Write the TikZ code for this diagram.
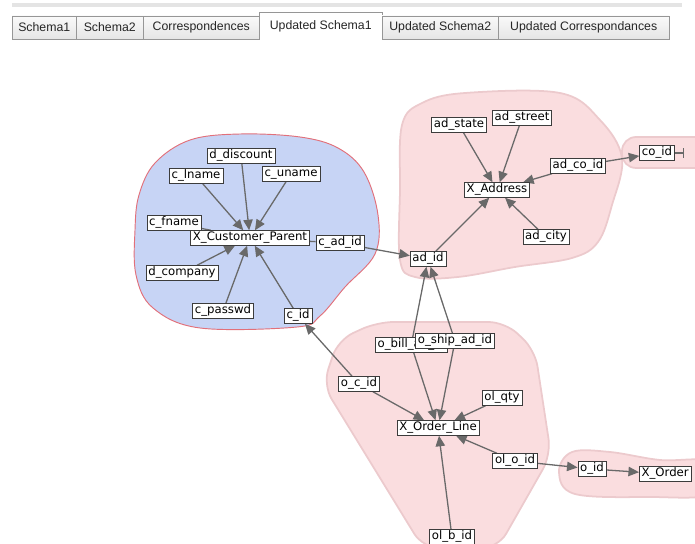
\documentclass[tikz,border=0pt]{standalone}
\usepackage{fontspec}
\usepackage{xcolor}
\usepackage{tikz}
\usetikzlibrary{arrows.meta,positioning}
\newfontfamily\labelfont{DejaVu Sans}
\newfontfamily\tabfont{Liberation Sans}
\definecolor{hullpink}{RGB}{250, 221, 223}
\definecolor{hulledge}{RGB}{236, 202, 205}
\definecolor{hullblue}{RGB}{199, 212, 245}
\definecolor{hullred}{RGB}{226, 112, 122}
\definecolor{boxgray}{RGB}{60, 60, 60}
\definecolor{edgegray}{RGB}{105, 105, 105}
\definecolor{tabgray}{RGB}{228, 228, 228}
\definecolor{tabline}{RGB}{150, 150, 150}
\pgfdeclarelayer{hulls}
\pgfdeclarelayer{links}
\pgfsetlayers{hulls,links,main}

\begin{document}
\begin{tikzpicture}[x=0.03cm,y=-0.03cm,
    attr/.style={draw=boxgray,fill=white,text=black,
        font=\labelfont\fontsize{10}{12}\selectfont,
        inner xsep=2pt,inner ysep=1.2pt,text height=7.7pt,text depth=2.7pt},
    link/.style={draw=edgegray,line width=1.1pt,-{Triangle[length=9pt,width=8pt]}},
    hull/.style={draw=hulledge,line width=1.5pt,fill=hullpink},
    tab/.style={draw=tabline,top color=gray!4,bottom color=gray!20,text=black!85,
        font=\tabfont\fontsize{10.5}{12}\selectfont,anchor=south west,
        inner sep=0pt,minimum height=0.69cm}]
    \useasboundingbox (0,0) rectangle (695,544);

    % Tab bar
    \fill[tabgray] (12,3) rectangle (682,7);
    \node[tab,minimum width=1.92cm] (tabSchemaA) at (12,39) {Schema1};
    \node[tab,minimum width=2.01cm] (tabSchemaB) at (76,39) {Schema2};
    \node[tab,minimum width=3.48cm] (tabCorr) at (143,39) {Correspondences};
    \node[tab,draw=none,top color=white,bottom color=white,minimum width=3.69cm,
        minimum height=0.81cm] (tabUpdA) at (259,40) {Updated Schema1};
    \draw[tabline] (tabUpdA.south west) |- (tabUpdA.north east) -- (tabUpdA.south east);
    \node[tab,minimum width=3.48cm] (tabUpdB) at (382,39) {Updated Schema2};
    \node[tab,minimum width=5.13cm] (tabUpdCorr) at (498,39) {Updated Correspondances};

    % Hulls of the three tables
    \begin{pgfonlayer}{hulls}
        \draw[draw=hullred,line width=0.8pt,fill=hullblue] plot[smooth cycle,tension=0.6]
            coordinates {(135,230) (139,195) (155,163) (190,140) (240,134) (300,137)
            (338,148) (364,172) (378,215) (375,254) (345,287) (320,316) (297,327)
            (200,328) (153,308) (136,275)};
        \draw[hull] plot[smooth cycle,tension=0.6]
            coordinates {(400,190) (402,125) (422,103) (465,93) (560,93) (600,120)
            (622,158) (612,205) (598,242) (572,258) (515,267) (458,277) (415,277)
            (400,260)};
        \draw[hull,rounded corners=12pt] (622,137) rectangle (720,168);
        \draw[hull,rounded corners=14pt] (377,322) -- (505,322) -- (535,350)
            -- (551,455) -- (498,548) -- (423,548) -- (323,385) -- (338,340) -- cycle;
        \draw[hull] plot[smooth cycle,tension=0.6]
            coordinates {(559,472) (572,452) (610,452) (660,460) (710,462) (710,494)
            (650,497) (575,494)};
    \end{pgfonlayer}

    % Customer
    \node[attr] (dDiscount) at (241,156) {d\_discount};
    \node[attr] (cLname) at (196,176) {c\_lname};
    \node[attr] (cUname) at (291,174) {c\_uname};
    \node[attr] (cFname) at (174,223) {c\_fname};
    \node[attr] (xCustomer) at (250,238) {X\_Customer\_Parent};
    \node[attr] (cAdId) at (340,243) {c\_ad\_id};
    \node[attr] (dCompany) at (182,273) {d\_company};
    \node[attr] (cPasswd) at (223,311) {c\_passwd};
    \node[attr] (cId) at (298,316) {c\_id};

    % Address
    \node[attr] (adState) at (459,125) {ad\_state};
    \node[attr] (adStreet) at (522,118) {ad\_street};
    \node[attr] (adCoId) at (578,166) {ad\_co\_id};
    \node[attr] (xAddress) at (497,190) {X\_Address};
    \node[attr] (adCity) at (546,237) {ad\_city};
    \node[attr] (adId) at (428,259) {ad\_id};
    \node[attr] (coId) at (657,153) {co\_id};
    \coordinate (coEnd) at (684,153);

    % Order line
    \node[attr,anchor=west] (oBill) at (375,345) {o\_bill\_ad\_id};
    \node[attr] (oShip) at (455,341) {o\_ship\_ad\_id};
    \node[attr] (oCId) at (359,384) {o\_c\_id};
    \node[attr] (olQty) at (502,398) {ol\_qty};
    \node[attr] (xOrderLine) at (438,428) {X\_Order\_Line};
    \node[attr] (olOId) at (515,461) {ol\_o\_id};
    \node[attr] (olBId) at (452,537) {ol\_b\_id};
    \node[attr] (oId) at (592,469) {o\_id};
    \node[attr,anchor=west] (xOrder) at (639,474) {X\_Order};

    % Links
    \begin{pgfonlayer}{links}
        \draw[link] (cLname) -- (xCustomer);
        \draw[link] (dDiscount) -- (xCustomer);
        \draw[link] (cUname) -- (xCustomer);
        \draw[link,-] (cFname) -- (xCustomer);
        \draw[link] (dCompany) -- (xCustomer);
        \draw[link] (cPasswd) -- (xCustomer);
        \draw[link] (cId) -- (xCustomer);
        \draw[link,-] (cAdId) -- (xCustomer);
        \draw[link] (cAdId) -- (adId);
        \draw[link] (adState) -- (xAddress);
        \draw[link] (adStreet) -- (xAddress);
        \draw[link] (adCoId) -- (xAddress);
        \draw[link] (adCity) -- (xAddress);
        \draw[link] (adId) -- (xAddress);
        \draw[link] (adCoId) -- (coId);
        \draw[link,-{Bar[width=8pt]}] (coId) -- (coEnd);
        \draw[link] (oBill) -- (adId);
        \draw[link] (oShip) -- (adId);
        \draw[link] (oBill) -- (xOrderLine);
        \draw[link] (oShip) -- (xOrderLine);
        \draw[link] (oCId) -- (cId);
        \draw[link] (oCId) -- (xOrderLine);
        \draw[link] (olQty) -- (xOrderLine);
        \draw[link] (olOId) -- (xOrderLine);
        \draw[link] (olOId) -- (oId);
        \draw[link] (oId) -- (xOrder);
        \draw[link] (olBId) -- (xOrderLine);
    \end{pgfonlayer}
\end{tikzpicture}
\end{document}
